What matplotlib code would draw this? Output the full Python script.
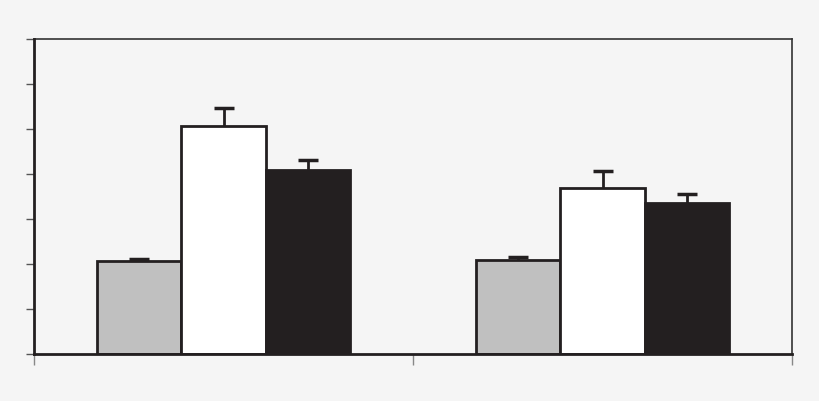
import matplotlib
matplotlib.use("Agg")
import matplotlib.pyplot as plt
import numpy as np

groups = ["A", "B"]
gray_vals = [2.07, 2.10]
gray_err = [0.05, 0.05]
white_vals = [5.07, 3.69]
white_err = [0.40, 0.38]
black_vals = [4.09, 3.36]
black_err = [0.22, 0.20]

bg = '#f5f5f5'
fig = plt.figure(figsize=(8.2, 4.02), dpi=100, facecolor=bg)
ax = fig.add_axes([34/820, 47/402, 758/820, 315/402])
ax.set_facecolor(bg)

ind = np.arange(len(groups)) + 0.5
width = 0.222

for off, vals, errs, col in [(-width, gray_vals, gray_err, '#c0c0c0'),
                             (0, white_vals, white_err, 'white'),
                             (width, black_vals, black_err, '#231f20')]:
    ax.bar(ind + off, vals, width, color=col, edgecolor='#231f20', linewidth=2, zorder=3)
    # only the upper whisker
    eb = ax.errorbar(ind + off, vals, yerr=[np.zeros(len(errs)), errs], fmt='none',
                     ecolor='#231f20', elinewidth=2, capsize=7, capthick=2.5, zorder=2)
    eb[1][0].set_visible(False)

ax.set_xlim(0, 2)
ax.set_ylim(0, 7)
ax.set_yticks(np.arange(0, 8, 1))
ax.set_yticklabels([])
ax.set_xticks([0, 1, 2])
ax.set_xticklabels([])
ax.tick_params(axis='y', direction='out', length=6, width=1, color='#555555')
ax.tick_params(axis='x', direction='out', length=8, width=1, color='#888888')

for s in ['top', 'right']:
    ax.spines[s].set_linewidth(1.2)
    ax.spines[s].set_color('#333333')
for s in ['left', 'bottom']:
    ax.spines[s].set_linewidth(2)
    ax.spines[s].set_color('#231f20')
    ax.spines[s].set_zorder(4)

fig.savefig('out.png', dpi=100, facecolor=bg)
